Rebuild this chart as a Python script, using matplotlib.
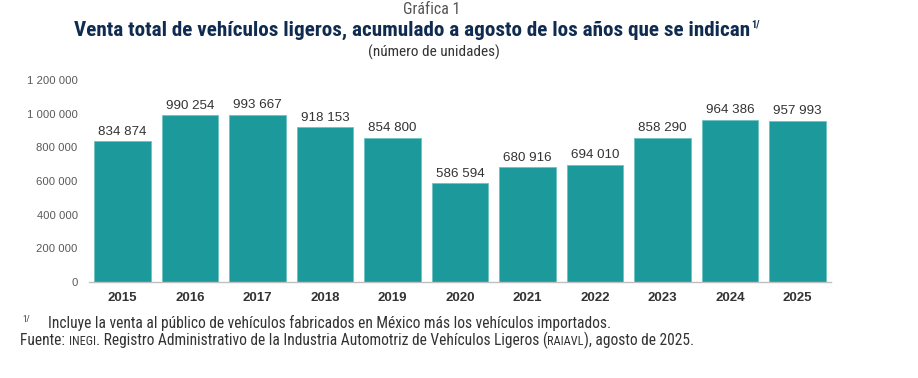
import matplotlib
matplotlib.use("Agg")
import matplotlib.pyplot as plt
from matplotlib.ticker import FuncFormatter

years = ["2015", "2016", "2017", "2018", "2019", "2020", "2021", "2022", "2023", "2024", "2025"]
ventas = [834874, 990254, 993667, 918153, 854800, 586594, 680916, 694010, 858290, 964386, 957993]
y_ticks = [0, 200000, 400000, 600000, 800000, 1000000, 1200000]

W, H = 918, 378
bar_color = "#1B999B"
navy = "#0F2B4F"
narrow = ["Roboto Condensed", "DejaVu Sans"]
regular = ["Liberation Sans", "DejaVu Sans"]


def miles(v):
    return f"{v:,.0f}".replace(",", " ")


fig = plt.figure(figsize=(W / 100, H / 100), dpi=100)
ax = fig.add_axes([88.75 / W, 1 - 282 / H, 742.5 / W, 202 / H])

x = range(len(years))
ax.bar(x, ventas, width=0.84, color=bar_color, edgecolor="#6CC2C3", linewidth=0.6)
for i, v in zip(x, ventas):
    ax.text(i, v + 22000, miles(v), ha="center", va="bottom", fontsize=9.6,
            family=regular, color="#333333", clip_on=False)

ax.set_xlim(-0.5, len(years) - 0.5)
ax.set_ylim(0, 1200000)
ax.set_yticks(y_ticks)
ax.yaxis.set_major_formatter(FuncFormatter(lambda v, p: miles(v)))
ax.set_xticks(list(x))
ax.set_xticklabels(years, fontweight="bold", fontsize=9.5, family=regular, color="#333333")
for lab in ax.get_yticklabels():
    lab.set_family(regular)
    lab.set_fontsize(8.1)
    lab.set_color("#595959")
ax.tick_params(axis="both", length=0)
ax.tick_params(axis="y", pad=8)
ax.tick_params(axis="x", pad=7)
for s in ("top", "right", "left"):
    ax.spines[s].set_visible(False)
ax.spines["bottom"].set_color("#BFBFBF")
ax.spines["bottom"].set_linewidth(1.0)

renderer = fig.canvas.get_renderer()


def px(xp, yp):
    return xp / W, 1 - yp / H


def run(pieces, x0, y0):
    # pieces: (texto, tamaño); se dibujan uno tras otro en la misma línea
    xc = x0
    for txt, size in pieces:
        t = fig.text(*px(xc, y0), txt, fontsize=size, family=narrow, va="baseline", color="#333333")
        xc = t.get_window_extent(renderer).x1


fig.text(*px(432, 9), "Gráfica 1", ha="center", va="center", fontsize=11.5,
         family=narrow, color="#555555")

title = fig.text(*px(412, 30), "Venta total de vehículos ligeros, acumulado a agosto de los años que se indican",
                 ha="center", va="center", fontsize=15.2, fontweight="bold", family=narrow, color=navy)
tb = title.get_window_extent(renderer)
fig.text((tb.x1 + 1) / W, 1 - 24 / H, "1/", fontsize=7.5, fontweight="bold", family=narrow,
         color=navy, va="center")

fig.text(*px(434, 52), "(número de unidades)", ha="center", va="center", fontsize=11,
         family=narrow, color="#333333")

fig.text(*px(22, 320), "1/", fontsize=6.5, family=narrow, color="#333333", va="center")
fig.text(*px(48, 328), "Incluye la venta al público de vehículos fabricados en México más los vehículos importados.",
         fontsize=11.2, family=narrow, color="#333333", va="baseline")

run([("Fuente: ", 11.2), ("INEGI", 8.8),
     (". Registro Administrativo de la Industria Automotriz de Vehículos Ligeros (", 11.2),
     ("RAIAVL", 8.8), ("), agosto de 2025.", 11.2)], 20, 345)

fig.savefig("out.png", dpi=100)
